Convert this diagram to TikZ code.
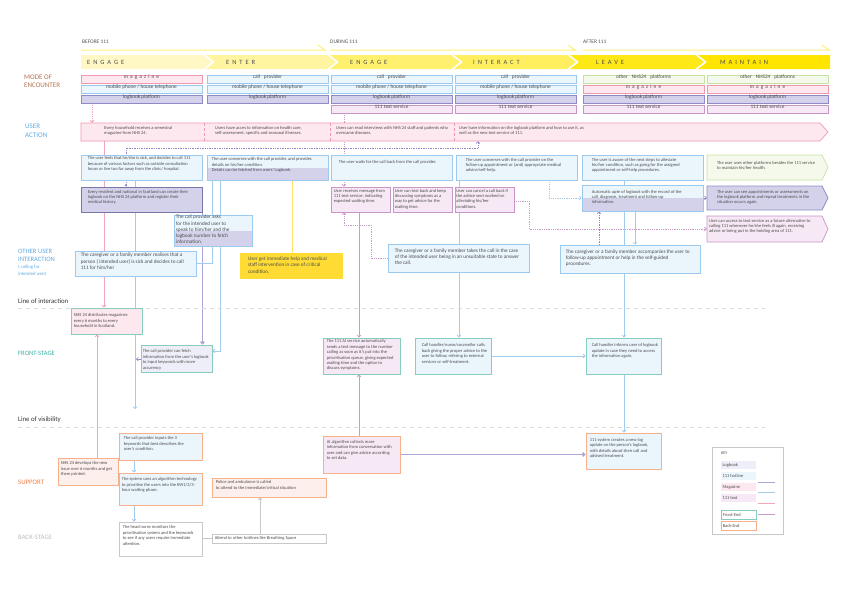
\documentclass[tikz,border=0pt]{standalone}
\usepackage{fontspec}
\setmainfont{Carlito}
\newfontfamily\phasefont[LetterSpace=45]{Carlito}
\newfontfamily\spacedfont[LetterSpace=40]{Carlito}
\usetikzlibrary{arrows.meta,fit}

\definecolor{inkc}{HTML}{4D4D4D}
\definecolor{hotfill}{HTML}{EAF5FC}
\definecolor{hotdraw}{HTML}{9CC9EE}
\definecolor{logfill}{HTML}{D4D2EB}
\definecolor{logdraw}{HTML}{8E8AC6}
\definecolor{lightlog}{HTML}{EEEEF8}
\definecolor{magfill}{HTML}{FCE8EE}
\definecolor{magdraw}{HTML}{F098AE}
\definecolor{smsfill}{HTML}{F6E8F4}
\definecolor{smsdraw}{HTML}{C994C6}
\definecolor{grnfill}{HTML}{F4F9EC}
\definecolor{grndraw}{HTML}{C6E2A2}
\definecolor{frontc}{HTML}{86CDBE}
\definecolor{backc}{HTML}{F7B08C}
\definecolor{paleback}{HTML}{FDEFEC}
\definecolor{yelbox}{HTML}{FFDB33}
\definecolor{maglc}{HTML}{F4A5B8}
\definecolor{hotlc}{HTML}{A3CBEE}
\definecolor{loglc}{HTML}{AAA6D6}
\definecolor{smslc}{HTML}{CB9BCB}
\definecolor{yellc}{HTML}{FFE36B}
\definecolor{grayl}{HTML}{C8C8C8}
\definecolor{dashc}{HTML}{DADADA}
\definecolor{modec}{HTML}{B5704F}
\definecolor{userc}{HTML}{5FA8E0}
\definecolor{frontlc}{HTML}{3BB0A0}
\definecolor{supportc}{HTML}{F47F45}
\definecolor{backlc}{HTML}{BDBDBD}
\definecolor{ph1}{HTML}{FFF7C4}
\definecolor{ph2}{HTML}{FFF4A0}
\definecolor{ph3}{HTML}{FFF06E}
\definecolor{ph4}{HTML}{FFEE5E}
\definecolor{ph5}{HTML}{FFE817}
\definecolor{ph6}{HTML}{FFE500}
\definecolor{topl}{HTML}{FFF07A}

\newcommand{\fsmall}{\fontsize{4.5}{5.2}\selectfont}
\newcommand{\ffront}{\fontsize{4.5}{5.4}\selectfont}
\newcommand{\fmid}{\fontsize{5.2}{6.2}\selectfont}
\newcommand{\fmode}{\fontsize{5.3}{5.5}\selectfont}
\newcommand{\fside}{\fontsize{7}{8.3}\selectfont}

\pgfdeclarelayer{bg}
\pgfsetlayers{bg,main}

\tikzset{
  box/.style={draw, inner sep=0pt, line width=0.7pt},
  hot/.style={box, fill=hotfill, draw=hotdraw},
  logb/.style={box, fill=logfill, draw=logdraw},
  mag/.style={box, fill=magfill, draw=magdraw},
  sms/.style={box, fill=smsfill, draw=smsdraw},
  grn/.style={box, fill=grnfill, draw=grndraw},
  split/.style={path picture={\fill[logfill] (path picture bounding box.west) rectangle (path picture bounding box.south east);}},
  front/.style={draw=frontc, line width=0.9pt},
  back/.style={draw=backc, line width=0.9pt},
  modebox/.style={font=\fmode, text=inkc},
  tx/.style={anchor=north west, inner sep=0pt, align=left, font=\fsmall, text=inkc},
  txf/.style={tx, font=\ffront},
  txm/.style={tx, font=\fmid},
  phase/.style={anchor=west, inner sep=0pt, text=inkc, font={\phasefont\fontsize{6.5}{7}\selectfont}},
  side/.style={anchor=west, inner sep=0pt, align=left, font=\fside},
  magline/.style={draw=maglc, line width=0.8pt},
  hotline/.style={draw=hotlc, line width=0.8pt},
  logline/.style={draw=loglc, line width=1.5pt},
  logthin/.style={draw=logdraw, line width=0.7pt},
  smsline/.style={draw=smslc, line width=0.8pt},
  yelline/.style={draw=yellc, line width=1pt},
  grayline/.style={draw=grayl, line width=0.8pt},
  stageline/.style={draw=dashc, line width=0.8pt, dash pattern=on 4pt off 4pt},
  >={Straight Barb[length=1.8pt,width=3.6pt]}
}

\begin{document}
\begin{tikzpicture}[x=1pt, y=-1pt]
  \useasboundingbox (0,0) rectangle (849,600);

  % time line
  \node[anchor=west, inner sep=0pt, text=inkc, font=\fontsize{5.4}{6}\selectfont] (before) at (82,42) {BEFORE 111};
  \node[anchor=west, inner sep=0pt, text=inkc, font=\fontsize{5.4}{6}\selectfont] (during) at (330,42) {DURING 111};
  \node[anchor=west, inner sep=0pt, text=inkc, font=\fontsize{5.4}{6}\selectfont] (after) at (583,42) {AFTER 111};
  \draw[topl, line width=1pt] (81,50) -- (325,50) -- (318,45);
  \draw[topl, line width=1pt] (330,50) -- (575,50) -- (568,45);
  \draw[topl, line width=1pt] (583,50) -- (829,50) -- (822,45);

  % phases
  \fill[ph1] (81,55) -- (203,55) -- (212,62) -- (203,69) -- (81,69) -- cycle;
  \fill[ph2] (206,55) -- (327,55) -- (336,62) -- (327,69) -- (206,69) -- (215,62) -- cycle;
  \fill[ph3] (330,55) -- (451,55) -- (460,62) -- (451,69) -- (330,69) -- (339,62) -- cycle;
  \fill[ph4] (454,55) -- (567,55) -- (576,62) -- (567,69) -- (454,69) -- (463,62) -- cycle;
  \fill[ph5] (570,55) -- (695,55) -- (704,62) -- (695,69) -- (570,69) -- (579,62) -- cycle;
  \fill[ph6] (698,55) -- (830,55) -- (830,69) -- (698,69) -- (707,62) -- cycle;
  \node[phase] (p1) at (87,62) {ENGAGE};
  \node[phase] (p2) at (226,62) {ENTER};
  \node[phase] (p3) at (350,62) {ENGAGE};
  \node[phase] (p4) at (473,62) {INTERACT};
  \node[phase] (p5) at (596,62) {LEAVE};
  \node[phase] (p6) at (720,62) {MAINTAIN};

  % side labels
  \node[side, anchor=north west, text=modec] (lmode) at (24,74.5) {MODE OF\\ENCOUNTER};
  \node[side, anchor=north west, text=userc] (luser) at (25,124) {USER\\ACTION};
  \node[side, anchor=north west, text=userc, font=\fontsize{6.6}{8.3}\selectfont] (lother) at (18,249) {OTHER USER\\INTERACTION};
  \node[side, anchor=north west, text=userc, font=\fontsize{4.8}{6.7}\selectfont] (lcall) at (18,265) {( calling for\\intended user)};
  \node[side, text=black!80, font=\fontsize{6.8}{7}\selectfont] (linter) at (18,301) {Line of interaction};
  \node[side, text=frontlc, font=\fontsize{6.6}{7}\selectfont] (lfront) at (18,353) {FRONT-STAGE};
  \node[side, text=black!80, font=\fontsize{6.8}{7}\selectfont] (lvis) at (18,420) {Line of visibility};
  \node[side, text=supportc, font=\fontsize{6.8}{7}\selectfont] (lsup) at (18,482) {SUPPORT};
  \node[side, text=backlc, font=\fontsize{6.8}{7}\selectfont] (lback) at (18,537) {BACK-STAGE};

  \draw[stageline] (18,308) -- (765,308);
  \draw[stageline] (18,427) -- (765,427);

  % mode of encounter
  \node[mag, modebox, fit={(81,75)(202,83)}] (m1a) {\spacedfont magazine};
  \node[hot, modebox, fit={(81,85)(202,93)}] (m1b) {mobile phone / house telephone};
  \node[logb, modebox, fit={(81,95)(202,103)}] (m1c) {logbook platform};
  \node[hot, modebox, fit={(207,75)(328,83)}] (m2a) {call\hspace{4pt}provider};
  \node[hot, modebox, fit={(207,85)(328,93)}] (m2b) {mobile phone / house telephone};
  \node[logb, modebox, fit={(207,95)(328,103)}] (m2c) {logbook platform};
  \node[hot, modebox, fit={(331,75)(452,83)}] (m3a) {call\hspace{4pt}provider};
  \node[hot, modebox, fit={(331,85)(452,93)}] (m3b) {mobile phone / house telephone};
  \node[logb, modebox, fit={(331,95)(452,103)}] (m3c) {logbook platform};
  \node[sms, modebox, fit={(331,105)(452,113)}] (m3d) {111 text service};
  \node[hot, modebox, fit={(455,75)(576,83)}] (m4a) {call\hspace{4pt}provider};
  \node[hot, modebox, fit={(455,85)(576,93)}] (m4b) {mobile phone / house telephone};
  \node[logb, modebox, fit={(455,95)(576,103)}] (m4c) {logbook platform};
  \node[sms, modebox, fit={(455,105)(576,113)}] (m4d) {111 text service};
  \node[grn, modebox, fit={(583,75)(704,83)}] (m5a) {other\hspace{4pt}NHS24\hspace{4pt}platforms};
  \node[mag, modebox, fit={(583,85)(704,93)}] (m5b) {\spacedfont magazine};
  \node[logb, modebox, fit={(583,95)(704,103)}] (m5c) {logbook platform};
  \node[sms, modebox, fit={(583,105)(704,113)}] (m5d) {111 text service};
  \node[grn, modebox, fit={(707,75)(828,83)}] (m6a) {other\hspace{4pt}NHS24\hspace{4pt}platforms};
  \node[mag, modebox, fit={(707,85)(828,93)}] (m6b) {\spacedfont magazine};
  \node[logb, modebox, fit={(707,95)(828,103)}] (m6c) {logbook platform};
  \node[sms, modebox, fit={(707,105)(828,113)}] (m6d) {111 text service};

  % user action
  \draw[mag] (81,123) -- (820,123) -- (828,132) -- (820,141) -- (81,141) -- cycle;
  \node[inner sep=0pt, fit={(81,123)(820,141)}] (ua) {};
  \draw[magdraw, line width=0.7pt, densely dashed] (204,123) -- (204,141);
  \draw[magdraw, line width=0.7pt, densely dashed] (330,123) -- (330,141);
  \draw[magdraw, line width=0.7pt, densely dashed] (454,123) -- (454,141);
  \node[tx] (ua1) at (104,126) {Every household receives a semestral\\magazine from NHS 24.};
  \node[tx] (ua2) at (215,126) {Users have acces to information on health care,\\self-assessment, specific and seasonal illnesses.};
  \node[tx] (ua3) at (336,126) {Users can read interviews with NHS 24 staff and patients who\\overcame diseases.};
  \node[tx] (ua4) at (459,126) {User have information on the logbook platform and how to use it, as\\well as the new text service of 111.};

  % user rows
  \node[hot, fit={(81,155)(202,180)}, label={[tx, xshift=7pt, yshift=-2pt]north west:{The user feels that he/she is sick, and decides to call 111\\because of various factors such as outside consultation\\hours or live too far away from the clinic/ hospital.}}] (A1) {};
  \node[hot, split, fit={(207,155)(328,180)}, label={[tx, xshift=5pt, yshift=-3pt]north west:{The user converses with the call provider, and provides\\details on his/her condition.\\Details can be fetched from users' Logbook.}}] (B1) {};
  \node[hot, fit={(331,155)(452,180)}, label={[tx, xshift=8pt, yshift=-6pt]north west:{The user waits for the call back from the call provider.}}] (C) {};
  \node[hot, fit={(456,155)(577,180)}, label={[tx, xshift=10pt, yshift=-3.5pt]north west:{The user converses with the call provider on the\\follow-up appointment or (and) appropriate medical\\advice/self-help.}}] (D) {};
  \node[hot, fit={(582,155)(703,180)}, label={[tx, xshift=10pt, yshift=-3.5pt]north west:{The user is aware of the next steps to alleviate\\his/her condition, such as going for the assigned\\appointment or self-help procedures.}}] (E) {};
  \draw[grn] (707,155) -- (822,155) -- (828,167.5) -- (822,180) -- (707,180) -- cycle;
  \node[inner sep=0pt, fit={(707,155)(822,180)}, label={[tx, xshift=10pt, yshift=-6pt]north west:{The user uses other platforms besides the 111 service\\to maintain his/her health.}}] (F1) {};

  \node[logb, draw=logdraw!85!black, line width=0.9pt, fit={(81,187)(202,212)}, label={[tx, xshift=7pt, yshift=-3.5pt]north west:{Every resident and national in Scotland can create their\\logbook on the NHS 24 platform and register their\\medical history.}}] (A2) {};
  \node[sms, fit={(331,187)(390,212)}, label={[tx, xshift=3pt, yshift=-2.5pt]north west:{User receives message from\\111 text service, indicating\\expected waiting time.}}] (C2a) {};
  \node[sms, fit={(393,187)(452,212)}, label={[tx, xshift=2pt, yshift=-2.5pt]north west:{User can text back and keep\\discussing symptoms as a\\way to get advice for the\\waiting time.}}] (C2b) {};
  \node[sms, fit={(455,187)(514,212)}, label={[tx, xshift=1.5pt, yshift=-2.5pt]north west:{User can cancel a call back if\\the advice sent worked on\\alleviating his/her\\conditions.}}] (C2c) {};
  \node[hot, split, fit={(582,185)(703,211)}, label={[tx, xshift=10pt, yshift=-5.5pt]north west:{Automatic upte of logbook with the record of the\\call, diagnose, treatment and follow-up\\information.}}] (E2) {};
  \draw[logb] (707,186) -- (822,186) -- (828,198) -- (822,210) -- (707,210) -- cycle;
  \node[inner sep=0pt, fit={(707,186)(822,210)}, label={[tx, xshift=10pt, yshift=-4pt]north west:{The user can see appointments or assessments on\\the logbook platform and repeat treatments in the\\situation occurs again.}}] (F2) {};
  \draw[sms] (707,216) -- (822,216) -- (828,229) -- (822,242) -- (707,242) -- cycle;
  \node[inner sep=0pt, fit={(707,216)(822,242)}, label={[tx, xshift=2pt, yshift=-3pt]north west:{User can access to text service as a future alternative to\\calling 111 whenever he/she feels ill again, receiving\\advice or being put in the holding area of 111.}}] (F3) {};

  \node[hot, split, fit={(174,215)(252,246)}, label={[txm, xshift=2pt, yshift=-0.5pt]north west:{The call provider asks\\for the intended user to\\speak to him/her and the\\logbook number to fetch\\information.}}] (B2) {};

  % other user interaction
  \node[hot, fit={(75,251)(196,276)}, label={[txm, xshift=6pt, yshift=-2.5pt]north west:{The caregiver or a family member realises that a\\person ( intended user) is sick and decides to call\\111 for him/her}}] (G1) {};
  \node[fill=yelbox, inner sep=0pt, fit={(240,253)(343,279)}, label={[txm, xshift=8pt, yshift=-4pt]north west:{User get immediate help and medical\\staff intervention in case of critical\\condition.}}] (Y) {};
  \node[hot, fit={(388,244)(529,272)}, label={[txm, xshift=7pt, yshift=-5pt]north west:{The caregiver or a family member takes the call in the case\\of the intended user being in an unsuitable state to answer\\the call.}}] (C3) {};
  \node[hot, fit={(560,245)(700,273)}, label={[txm, xshift=6pt, yshift=-5pt]north west:{The caregiver or a family member accompanies the user to\\follow-up appointment or help in the self-guided\\procedures.}}] (E3) {};

  % front-stage
  \node[mag, front, fit={(71,308)(142,334)}, label={[txf, xshift=3pt, yshift=-6pt]north west:{NHS 24 distributes magazines\\every 6 months to every\\household in Scotland.}}] (H1) {};
  \node[box, fill=lightlog, front, fit={(141,345)(212,372)}, label={[txf, xshift=2pt, yshift=-5pt]north west:{The call provider can fetch\\information from the user's logbook\\to input keywords with more\\accurency}}] (H2) {};
  \node[sms, front, fit={(323,338)(400,374)}, label={[txf, xshift=4pt, yshift=-2pt]north west:{The 111 AI service automatically\\sends a text message to the number\\calling as soon as it's put into the\\prioritisation queue, giving expected\\waiting time and the option to\\discuss symptoms.}}] (H3) {};
  \node[hot, front, fit={(415,338)(491,374)}, label={[txf, xshift=7pt, yshift=-6pt]north west:{Call handler/nurse/counsellor calls\\back giving the proper advice to the\\user to follow, refering to external\\services or self-treatment.}}] (H4) {};
  \node[hot, front, fit={(586,338)(661,374)}, label={[txf, xshift=6pt, yshift=-6pt]north west:{Call handler informs user of logbook\\update in case they need to access\\the information again.}}] (H5) {};

  % support
  \node[box, fill=paleback, back, fit={(58,458)(118,485)}, label={[txf, xshift=3pt, yshift=-4pt]north west:{NHS 24 develops the new\\issue over 6 months and get\\them printed.}}] (S1) {};
  \node[hot, back, fit={(119,433)(202,460)}, label={[txf, xshift=5pt, yshift=-4pt]north west:{The call provider inputs the 3\\keywords that best describes the\\user's condition.}}] (S2) {};
  \node[hot, back, fit={(119,473)(202,505)}, label={[txf, xshift=3pt, yshift=-5pt]north west:{The system uses an algorithm technology\\to prioritise the users into the KW1/2/3-\\hour waiting phase.}}] (S3) {};
  \node[box, fill=paleback, back, fit={(212,478)(326,497)}, label={[txf, xshift=4pt, yshift=-3pt]north west:{Police and ambulance is called\\to attend to the immediate/critical situation}}] (S4) {};
  \node[sms, back, fit={(323,436)(400,473)}, label={[txf, xshift=4pt, yshift=-4.5pt]north west:{AI algorithm collects more\\information from conversation with\\user and can give advice according\\to set data.}}] (S5) {};
  \node[hot, back, fit={(586,433)(661,469)}, label={[txf, xshift=4pt, yshift=-5.5pt]north west:{111 system creates a new log\\update on the person's logbook,\\with details about their call and\\advised treatment.}}] (S6) {};

  % back-stage
  \node[box, fill=white, draw=grayl, line width=0.9pt, fit={(119,522)(202,556)}, label={[txf, xshift=4pt, yshift=-4pt]north west:{The head nurse monitors the\\prioritisation system and the keywords\\to see if any users require immediate\\attention.}}] (Bk1) {};
  \node[box, fill=white, draw=grayl, line width=0.9pt, fit={(212,534)(326,543)}, label={[txf, anchor=west, xshift=3pt]west:{Attend to other hotlines like Breathing Space}}] (Bk2) {};

  \coordinate (kw) at (136,359);
  \coordinate (kwend) at (135,409);

  % connectors
  \begin{pgfonlayer}{bg}
    \draw[magline,->] (ua.south -| 104,0) -- (H1.north -| 104,0);
    \draw[magline,->] (S1.north -| 97,0) -- (H1.south -| 97,0);
    \draw[magline,densely dotted,->] (m1c.south -| 92,0) -- (ua.north -| 92,0);
    \draw[logline,->] (A2.south east) -- (H2.north -| A2.south east);
    \draw[logthin,densely dotted,{Circle[open,length=2.4pt]}->] (A2.north -| 126,0) |- (478,148) -- (ua.south -| 478,0);
    \draw[logthin,->] (H2.west |- kw) -- (kw);
    \draw[hotline,->] (A1.south -| 135,0) -- (kwend);
    \draw[hotline] (G1.east |- 0,263) -| (B1.south -| 212,0);
    \draw[hotline,->] (B1.south -| 220,0) |- (H2.east |- 0,351);
    \draw[yelline] (B1.south -| 292,0) -- (Y.north -| 292,0);
    \draw[hotline,->] (D.south -| 459,0) -- (H4.north -| 459,0);
    \draw[hotline,densely dotted,->] (D.south -| 549,0) |- (E2.west);
    \draw[hotline,->] (E.south -| 624,0) -- (H5.north -| 624,0);
    \draw[hotline,->] (E2.south -| 635,0) -- (E3.north -| 635,0);
    \draw[hotline,->] (H4.east) -- (H5.west);
    \draw[hotline,->] (H5.south -| 624,0) -- (S6.north -| 624,0);
    \draw[hotline,->] (S2.south -| 134,0) -- (S3.north -| 134,0);
    \draw[hotline,->] (S3.south -| 134,0) -- (Bk1.north -| 134,0);
    \draw[smsline,densely dotted,->] (m3d.south -| 344,0) -- (C2a.north -| 344,0);
    \draw[smsline,densely dotted,->] (C3.west) -| (371,225) -| (C2a.south -| 344,0);
    \draw[smsline,->] (C2a.south -| 359,0) -- (H3.north -| 359,0);
    \draw[smsline,->] (S5.north -| 359,0) -- (H3.south -| 359,0);
    \draw[smsline,densely dotted,->] (C2c.east |- 0,201) -| (529,229) -- (F3.west);
    \draw[logthin,densely dotted,->] (E3.north -| 599,0) -- (E2.south -| 599,0);
    \draw[logthin,->] (E2.east) -- (F2.west);
    \draw[logline,->] (S5.east) -- (S5.east -| S6.west);
    \draw[grayline] (Bk1.east |- Bk2.west) -- (Bk2.west);
    \draw[grayline,->] (Bk2.north -| 260,0) -- (S4.south -| 260,0);
  \end{pgfonlayer}

  % key
  \node[draw=grayl, line width=0.8pt, inner sep=0pt, fit={(712,447)(783,534)}] (key) {};
  \node[tx, anchor=west, font=\fontsize{4.2}{5}\selectfont] (keyt) at (721,453) {KEY};
  \node[inner sep=0pt, fill=lightlog, fit={(721,461)(756,469)}, label={[tx, anchor=west, xshift=1.5pt]west:Logbook}] (kLog) {};
  \node[inner sep=0pt, fill=hotfill, fit={(721,472)(756,480)}, label={[tx, anchor=west, xshift=1.5pt]west:111 hotline}] (kHot) {};
  \node[inner sep=0pt, fill=magfill, fit={(721,483)(756,491)}, label={[tx, anchor=west, xshift=1.5pt]west:Magazine}] (kMag) {};
  \node[inner sep=0pt, fill=smsfill, fit={(721,494)(756,502)}, label={[tx, anchor=west, xshift=1.5pt]west:111 text}] (kSms) {};
  \node[box, fill=white, front, fit={(721,510)(756,519)}, label={[tx, anchor=west, xshift=2pt]west:Front-End}] (kFront) {};
  \node[box, fill=white, back, fit={(721,521)(756,530)}, label={[tx, anchor=west, xshift=2pt]west:Back-End}] (kBack) {};
  \draw[logline, line width=1pt] (758,482) -- (775,482);
  \draw[hotline] (758,492) -- (775,492);
  \draw[magline] (758,503) -- (775,503);
  \draw[smsline] (758,514) -- (775,514);
\end{tikzpicture}
\end{document}
